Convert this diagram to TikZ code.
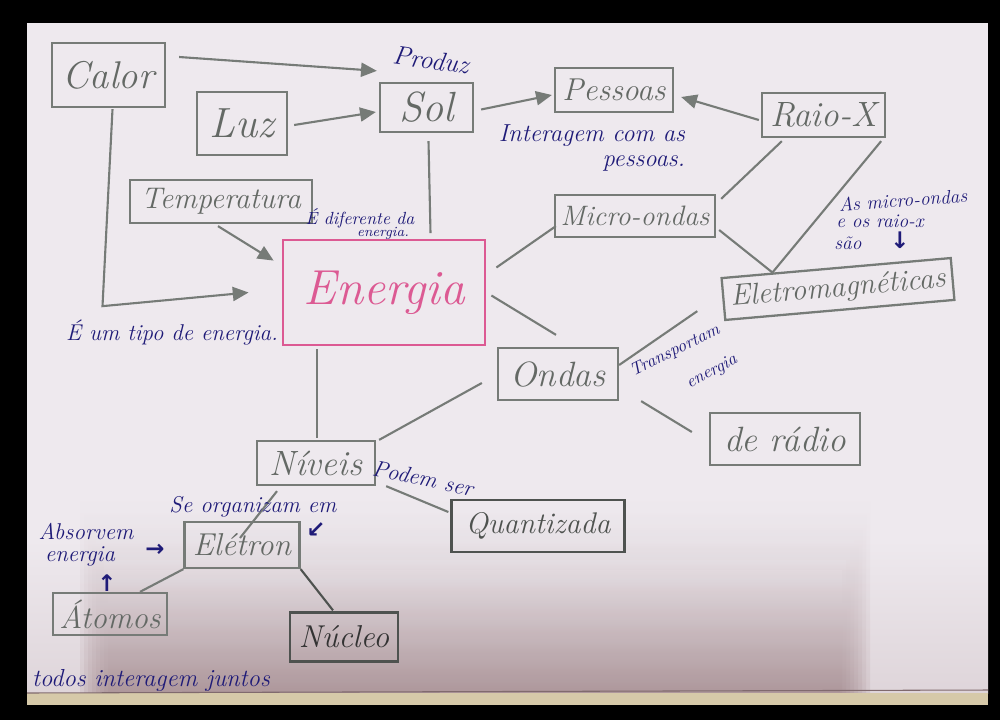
\documentclass[tikz,border=0pt]{standalone}
\usepackage{fontspec}
\newfontfamily\symfont{DejaVu Sans}
\usetikzlibrary{arrows.meta,calc}
\definecolor{paper}{HTML}{EEE9EE}
\definecolor{shadow}{HTML}{A08589}
\definecolor{edgeband}{HTML}{D6C9A9}
\definecolor{pencil}{HTML}{767B77}
\definecolor{pencildark}{HTML}{4E524F}
\definecolor{pinkink}{HTML}{DC5A93}
\definecolor{inkblue}{HTML}{1F1B78}
\newcommand\fs[1]{\fontsize{#1}{#1}\selectfont}
\begin{document}
\begin{tikzpicture}[x=0.02cm,y=-0.02cm,
  box/.style={draw=pencil, line width=1.3pt, rectangle, inner sep=0pt,
    text=pencil!85!black, font=\itshape\fs{19}},
  sz/.style 2 args={minimum width=#1*0.02cm, minimum height=#2*0.02cm},
  link/.style={draw=pencil, line width=1.2pt},
  arr/.style={link, -{Triangle[length=9pt,width=8pt]}},
  ink/.style={text=inkblue, font=\itshape\fs{13}, inner sep=0pt, align=center},
  sym/.style={text=inkblue, font=\symfont\bfseries\fs{13}, inner sep=0pt},
]
% photo frame and sheet
\useasboundingbox (0,0) rectangle (1000,720);
\fill[black] (0,0) rectangle (1000,720);
\fill[paper] (27,23) rectangle (988,705);
\begin{scope}
  \clip (27,23) rectangle (988,705);
  % soft shadow over the lower part of the sheet, built from faint layers
  \shade[top color=paper, bottom color=paper!80!shadow] (27,540) rectangle (988,693);
  \foreach \k in {0,...,7} {
    \shade[opacity=0.16, top color=paper, bottom color=shadow]
      ({80+4*\k},{500+10*\k}) rectangle ({870-4*\k},693);
  }
  \fill[edgeband] (27,693) rectangle (988,705);
  \draw[shadow!80!black, line width=0.6pt] (27,693) -- (988,690);
\end{scope}

% concept boxes
\node[box, sz={113}{64}, font=\itshape\fs{22}] (calor) at (108.5,75) {Calor};
\node[box, sz={90}{63}, font=\itshape\fs{24}] (luz) at (242,123.5) {Luz};
\node[box, sz={93}{49}, font=\itshape\fs{24}] (sol) at (426.5,107.5) {Sol};
\node[box, sz={118}{44}, font=\itshape\fs{18}] (pessoas) at (614,90) {Pessoas};
\node[box, sz={123}{44}, font=\itshape\fs{20}] (raiox) at (823.5,115) {Raio-X};
\node[box, sz={182}{43}, font=\itshape\fs{17}] (temp) at (221,201.5) {Temperatura};
\node[box, draw=pinkink, text=pinkink, line width=1.6pt, sz={202}{105},
  font=\itshape\fs{28}] (energia) at (384,292.5) {Energia};
\node[box, sz={160}{42}, font=\itshape\fs{16}] (micro) at (635,216) {Micro-ondas};
\node[box, sz={230}{42}, rotate=5, font=\itshape\fs{17}] (eletro) at (838,289) {Eletromagnéticas};
\node[box, sz={120}{52}, font=\itshape\fs{20}] (ondas) at (558,374) {Ondas};
\node[box, sz={150}{52}, font=\itshape\fs{20}] (radio) at (785,439) {de rádio};
\node[box, sz={118}{44}, font=\itshape\fs{20}] (niveis) at (316,463) {Níveis};
\node[box, draw=pencildark, text=pencildark, sz={173}{52}, font=\itshape\fs{17}] (quant) at (538,526) {Quantizada};
\node[box, sz={115}{46}, font=\itshape\fs{18}] (eletron) at (242,545) {Elétron};
\node[box, sz={114}{42}, font=\itshape\fs{18}] (atomos) at (110,614) {Átomos};
\node[box, draw=pencildark, text=black!80, sz={108}{49}, font=\itshape\fs{18}] (nucleo) at (344,637) {Núcleo};

% arrows
\draw[arr] ($(calor.east)+(13,-18)$) -- ($(sol.north west)+(-2,-11)$);
\draw[arr] ($(luz.east)+(6,1.5)$) -- ($(sol.west)+(-3,4.5)$);
\draw[arr] ($(sol.east)+(7,2)$) -- ($(pessoas.west)+(-2,5)$);
\draw[arr] ($(raiox.west)+(-2,5)$) -- ($(pessoas.east)+(7,7)$);
\draw[arr] ($(temp.south)+(-3,2)$) -- ($(energia.north west)+(-8,22)$);
\draw[arr] ($(calor.south)+(4,1)$) -- ($(calor.south)+(-6,198)$) -- ($(energia.west)+(-33,0)$);

% plain links
\draw[link] ($(sol.south)+(2,8)$) -- ($(sol.south)+(4,100)$);
\draw[link] ($(energia.east)+(10,-25)$) -- ($(micro.south west)+(2,-12)$);
\draw[link] ($(energia.east)+(5,3)$) -- ($(ondas.north)+(-2,-12)$);
\draw[link] ($(micro.north east)+(5,5)$) -- ($(raiox.south west)+(21,3)$);
\coordinate (emtop) at ($(eletro.north)!0.55!(eletro.north west)$);
\draw[link] ($(micro.east)+(3,14)$) -- (emtop);
\draw[link] ($(raiox.south east)+(-5,3)$) -- (emtop);
\draw[link] ($(ondas.east)+(0,-9)$) -- ($(eletro.west)+(-25,12)$);
\draw[link] ($(ondas.south east)+(22,0)$) -- ($(radio.west)+(-17,-7)$);
\draw[link] ($(energia.south)+(-67,3)$) -- ($(niveis.north)+(1,-2)$);
\draw[link] ($(niveis.north east)+(3,0)$) -- ($(ondas.west)+(-15,9)$);
\draw[link] ($(niveis.south east)+(10,0)$) -- ($(quant.west)+(-2,-14)$);
\draw[link] ($(niveis.south)+(-39,5)$) -- ($(eletron.center)+(-2,-7)$);
\draw[link] (eletron.south west) -- ($(atomos.north)+(30,0)$);
\draw[link, draw=pencildark] (eletron.south east) -- ($(nucleo.north)+(-11,-1)$);

% link phrases
\node[ink, font=\itshape\fs{15}, rotate=-8] (produz) at (431,60) {Produz};
\node[ink, font=\itshape\fs{14}, align=right] (interagem) at (592,148) {Interagem com as\\pessoas.};
\node[ink, font=\itshape\fs{10}] (difere) at (360,218) {É diferente da};
\node[ink, font=\itshape\fs{8}] (difere2) at (383,233) {energia.};
\node[ink] (tipo) at (172,333) {É um tipo de energia.};
\node[ink, font=\itshape\fs{11}, rotate=4] (asmicro) at (903,200) {As micro-ondas};
\node[ink, font=\itshape\fs{11}] (eosraio) at (880,221) {e os raio-x};
\node[ink, font=\itshape\fs{11}] (sao) at (848,243) {são};
\node[sym] (setasao) at (900,240) {↓};
\node[ink, font=\itshape\fs{10}, rotate=26] (transp) at (675,351) {Transportam};
\node[ink, font=\itshape\fs{10}, rotate=28] (transp2) at (712,372) {energia};
\node[ink, rotate=-12] (podem) at (423,478) {Podem ser};
\node[ink] (organ) at (253,507) {Se organizam em};
\node[sym] (setaorg) at (316,530) {↙};
\node[ink] (absorvem) at (86,531) {Absorvem};
\node[ink] (absorvem2) at (80,556) {energia};
\node[sym] (setaabs) at (155,550) {→};
\node[sym] (setaabs2) at (107,583) {↑};
\node[ink, font=\itshape\fs{14}] (todos) at (151,680) {todos interagem juntos};
\end{tikzpicture}
\end{document}
